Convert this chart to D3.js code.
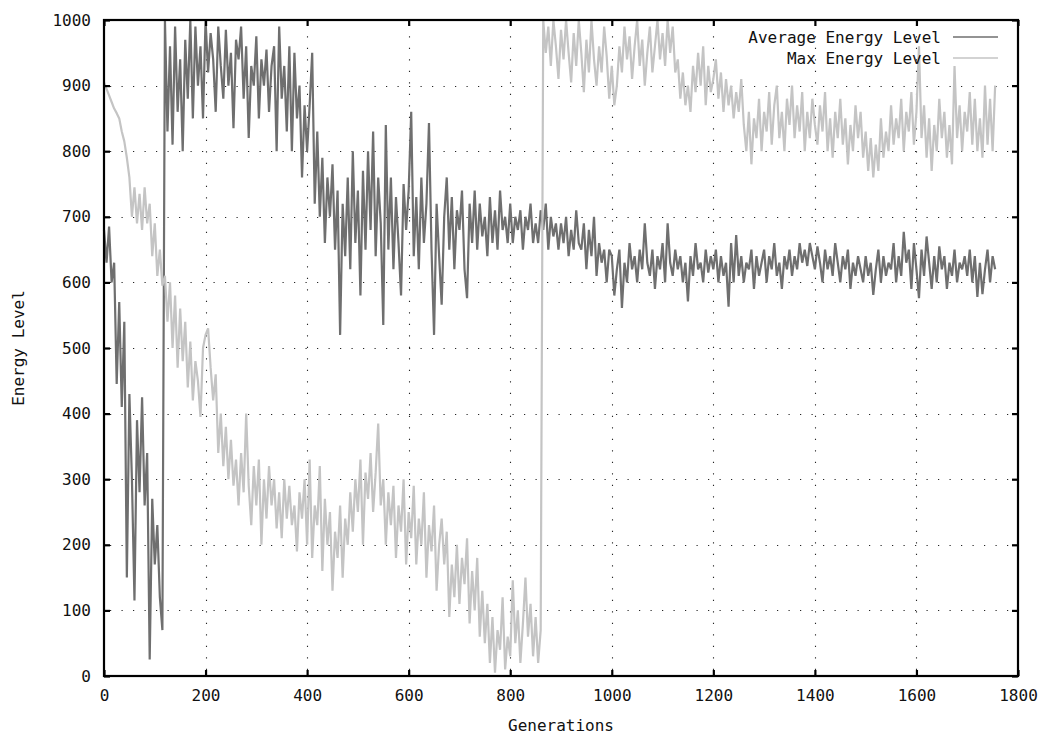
<!DOCTYPE html>
<html>
<head>
<meta charset="utf-8">
<script src="https://cdn.jsdelivr.net/npm/d3@7"></script>
<style>
  html, body { margin: 0; padding: 0; background: #fff; }
  svg { display: block; }
  text { font-family: "DejaVu Sans Mono", "Liberation Mono", monospace; font-size: 16px; fill: #111; }
</style>
</head>
<body>
<svg id="chart" width="1048" height="738"></svg>
<script>
// ---- Data ----
const genStart = 0, genStep = 5;   // generations sampled every 5
const xTickValues = [0, 200, 400, 600, 800, 1000, 1200, 1400, 1600, 1800];
const yTickValues = [0, 100, 200, 300, 400, 500, 600, 700, 800, 900, 1000];
const seriesNames = ["Average Energy Level", "Max Energy Level"];
const xLabel = "Generations";
const yLabel = "Energy Level";

const averageEnergy = [
  680,630,685,600,630,445,570,410,540,150,   // 0-45
  430,300,115,390,280,425,260,340,25,270,    // 50-95
  170,230,120,70,1000,830,960,810,990,860,   // 100-145
  940,800,970,880,1000,850,990,900,960,850,  // 150-195
  1000,920,980,940,860,990,930,880,985,900,  // 200-245
  950,835,970,940,990,880,960,820,930,900,   // 250-295
  975,850,940,900,955,860,930,960,800,990,   // 300-345
  880,930,830,960,800,950,850,900,760,870,   // 350-395
  800,870,950,720,830,700,790,660,760,700,   // 400-445
  780,650,740,520,720,640,760,620,800,660,   // 450-495
  740,580,770,650,800,680,830,640,760,690,   // 500-545
  535,840,650,760,620,730,660,580,750,680,   // 550-595
  740,860,640,730,620,760,660,720,843,650,   // 600-645
  520,720,640,566,700,760,650,730,620,710,   // 650-695
  680,740,620,576,720,660,740,650,720,670,   // 700-745
  700,640,730,660,710,650,740,680,700,660,   // 750-795
  720,660,700,680,710,650,700,680,720,660,   // 800-845
  690,660,710,680,720,650,700,670,690,650,   // 850-895
  690,660,700,640,680,650,710,660,650,690,   // 900-945
  620,680,640,700,610,660,630,650,600,650,   // 950-995
  640,580,620,650,561,630,600,660,620,640,   // 1000-1045
  600,650,620,690,630,610,650,590,640,620,   // 1050-1095
  660,600,690,630,610,650,620,640,600,630,   // 1100-1145
  571,640,610,660,620,630,600,650,615,640,   // 1150-1195
  620,650,600,640,610,630,563,660,600,672,   // 1200-1245
  610,640,600,630,620,650,590,640,610,630,   // 1250-1295
  650,600,640,620,660,610,630,590,640,620,   // 1300-1345
  650,610,640,620,660,630,650,625,660,640,   // 1350-1395
  620,655,630,600,650,620,640,610,660,630,   // 1400-1445
  600,640,620,650,590,630,610,640,620,600,   // 1450-1495
  640,610,630,581,620,650,600,640,610,630,   // 1500-1545
  620,660,600,640,610,677,630,650,590,660,   // 1550-1595
  620,576,650,610,670,630,590,640,600,655,   // 1600-1645
  620,640,590,630,610,650,600,630,620,640,   // 1650-1695
  610,650,600,640,578,630,582,620,650,600,   // 1700-1745
  640,620                                    // 1750-1755
];

const maxEnergy = [
  905,895,885,875,865,858,850,830,815,790,   // 0-45
  760,700,745,690,735,680,745,690,720,640,   // 50-95
  690,610,650,595,610,540,600,500,580,470,   // 100-145
  560,480,540,440,510,420,480,450,395,500,   // 150-195
  520,530,470,420,460,340,400,320,380,300,   // 200-245
  360,290,330,260,340,280,400,290,230,320,   // 250-295
  260,330,200,300,240,320,260,300,225,280,   // 300-345
  210,300,240,290,230,260,190,280,240,300,   // 350-395
  200,330,180,260,230,320,160,270,200,250,   // 400-445
  130,220,180,260,150,240,200,280,220,300,   // 450-495
  250,330,200,310,270,340,250,310,385,260,   // 500-545
  300,200,280,230,290,180,260,220,300,170,   // 550-595
  250,210,290,170,240,200,280,150,230,190,   // 600-645
  260,130,200,240,170,220,90,170,120,200,    // 650-695
  110,180,140,210,80,160,100,180,60,130,     // 700-745
  50,110,20,90,5,70,40,120,10,60,            // 750-795
  30,146,50,100,20,80,150,60,110,30,         // 800-845
  90,20,70,1000,950,990,930,1000,960,910,    // 850-895
  985,940,1000,950,905,980,930,1000,950,890, // 900-945
  970,920,1000,940,900,960,920,990,945,880,  // 950-995
  930,870,900,960,920,990,940,975,910,960,   // 1000-1045
  1000,930,970,900,950,990,920,960,1000,940, // 1050-1095
  980,930,1000,950,990,920,940,880,920,870,  // 1100-1145
  900,860,930,890,950,900,960,870,930,890,   // 1150-1195
  910,940,880,920,860,910,870,900,850,890,   // 1200-1245
  860,910,840,800,860,780,850,820,880,800,   // 1250-1295
  860,830,890,810,870,900,820,860,800,880,   // 1300-1345
  840,900,820,870,830,890,800,860,820,880,   // 1350-1395
  840,810,870,830,890,800,850,790,860,820,   // 1400-1445
  880,810,850,780,840,800,870,820,860,790,   // 1450-1495
  830,770,820,760,810,770,850,790,830,800,   // 1500-1545
  870,810,850,820,880,800,860,830,890,810,   // 1550-1595
  860,960,820,870,790,850,770,840,800,880,   // 1600-1645
  820,860,790,840,780,930,820,870,800,860,   // 1650-1695
  830,890,810,880,800,850,790,900,810,880,   // 1700-1745
  800,900                                    // 1750-1755
];

// ---- Layout ----
const svg = d3.select("#chart");
const W = 1048, H = 738;
const pLeft = 104, pRight = 1018, pTop = 20, pBottom = 676;

svg.append("rect").attr("width", W).attr("height", H).attr("fill", "#fff");

const x = d3.scaleLinear().domain([0, 1800]).range([pLeft, pRight]);
const y = d3.scaleLinear().domain([0, 1000]).range([pBottom, pTop]);

// grid (dotted)
const grid = svg.append("g").attr("stroke", "#000").attr("stroke-width", 1.1)
  .attr("stroke-dasharray", "1.2,10.3").attr("opacity", 0.85);
grid.selectAll("line.h").data(yTickValues.filter(v => v > 0 && v < 1000)).join("line")
  .attr("class", "h").attr("x1", pLeft + 6).attr("x2", pRight - 1)
  .attr("y1", d => Math.round(y(d)) + 0.5).attr("y2", d => Math.round(y(d)) + 0.5);
grid.selectAll("line.v").data(xTickValues.filter(v => v > 0 && v < 1800)).join("line")
  .attr("class", "v").attr("y1", pBottom - 6).attr("y2", pTop + 1)
  .attr("x1", d => Math.round(x(d)) + 0.5).attr("x2", d => Math.round(x(d)) + 0.5);

// data lines
const gens = d3.range(averageEnergy.length).map(i => genStart + i * genStep);
const gensMax = d3.range(maxEnergy.length).map(i => genStart + i * genStep);
const line = d3.line().x(d => x(d[0])).y(d => y(d[1]));

svg.append("path")
  .datum(gens.map((g, i) => [g, averageEnergy[i]]))
  .attr("fill", "none").attr("stroke", "#6f6f6f").attr("stroke-width", 2.2)
  .attr("stroke-linejoin", "bevel").attr("d", line);

svg.append("path")
  .datum(gensMax.map((g, i) => [g, maxEnergy[i]]))
  .attr("fill", "none").attr("stroke", "#c4c4c4").attr("stroke-width", 2.2)
  .attr("stroke-linejoin", "bevel").attr("d", line);

// axes
const axB = svg.append("g").attr("transform", `translate(0,${pBottom})`)
  .call(d3.axisBottom(x).tickValues(xTickValues).tickSize(-6).tickPadding(14).tickFormat(d3.format("d")));
const axL = svg.append("g").attr("transform", `translate(${pLeft},0)`)
  .call(d3.axisLeft(y).tickValues(yTickValues).tickSize(-6).tickPadding(13).tickFormat(d3.format("d")));
const axT = svg.append("g").attr("transform", `translate(0,${pTop})`)
  .call(d3.axisTop(x).tickValues(xTickValues).tickSize(-6).tickFormat(""));
const axR = svg.append("g").attr("transform", `translate(${pRight},0)`)
  .call(d3.axisRight(y).tickValues(yTickValues).tickSize(-6).tickFormat(""));

[axB, axL, axT, axR].forEach(a => {
  a.select(".domain").remove();
  a.selectAll(".tick line").attr("stroke", "#000").attr("stroke-width", 2.2);
  a.selectAll(".tick text").attr("font-family", null).attr("font-size", null).style("fill", "#111");
});

// border
svg.append("rect").attr("x", pLeft).attr("y", pTop)
  .attr("width", pRight - pLeft).attr("height", pBottom - pTop)
  .attr("fill", "none").attr("stroke", "#000").attr("stroke-width", 2.2);

// axis titles
svg.append("text").attr("x", (pLeft + pRight) / 2).attr("y", 731)
  .attr("text-anchor", "middle").text(xLabel);
svg.append("text").attr("transform", `translate(24,${(pTop + pBottom) / 2}) rotate(-90)`)
  .attr("text-anchor", "middle").text(yLabel);

// legend
const legendColors = ["#6f6f6f", "#c4c4c4"];
const leg = svg.append("g");
seriesNames.forEach((name, i) => {
  const yy = 37 + i * 21;
  leg.append("text").attr("x", 941).attr("y", yy).attr("dy", "0.35em")
    .attr("text-anchor", "end").text(name);
  leg.append("line").attr("x1", 953).attr("x2", 998).attr("y1", yy).attr("y2", yy)
    .attr("stroke", legendColors[i]).attr("stroke-width", 1.5);
});
</script>
</body>
</html>
